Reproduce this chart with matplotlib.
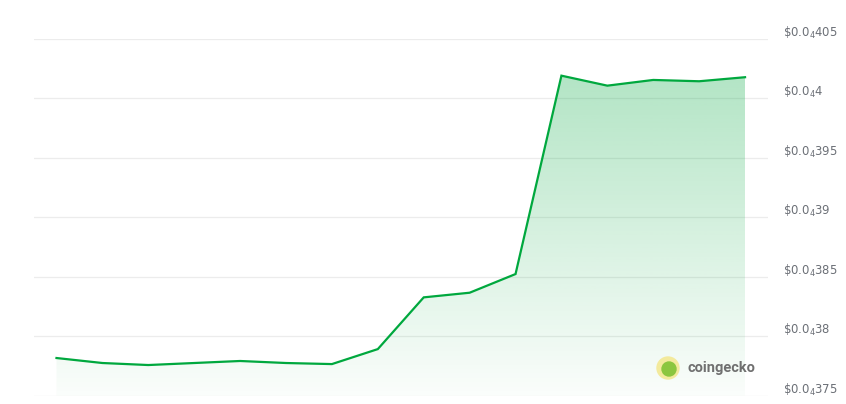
import numpy as np
import matplotlib.pyplot as plt
import matplotlib.transforms as mtransforms
from matplotlib.patches import Ellipse

# price in units of 1e-7 USD (405 -> $0.0000405)
prices = [378.16, 377.74, 377.57, 377.74, 377.91, 377.74, 377.65, 378.91,
          383.26, 383.65, 385.22, 401.9, 401.06, 401.54, 401.43, 401.77]
tick_values = [375, 380, 385, 390, 395, 400, 405]
tick_digits = ["375", "38", "385", "39", "395", "4", "405"]

LINE_GREEN = "#00a83e"
Y_MIN, Y_MAX = 375, 405

fig = plt.figure(figsize=(8.46, 4.04), dpi=100)
ax = fig.add_axes([34 / 846, 1 - 395.6 / 404, (768 - 34) / 846, (395.6 - 38.8) / 404])

x = np.arange(len(prices))
ax.plot(x, prices, color=LINE_GREEN, lw=1.6, zorder=3, solid_joinstyle="miter")

# gradient fill under the line
poly = ax.fill_between(x, prices, Y_MIN, color="none", lw=0)
top = max(prices)
grad = np.zeros((256, 1, 4))
grad[:, 0, 0] = 0 / 255
grad[:, 0, 1] = 168 / 255
grad[:, 0, 2] = 62 / 255
grad[:, 0, 3] = np.linspace(0.30, 0.02, 256)
img = ax.imshow(grad, aspect="auto", origin="upper",
                extent=(x[0], x[-1], Y_MIN, top), zorder=2)
path = poly.get_paths()[0]
img.set_clip_path(path, transform=ax.transData)

ax.set_xlim(-0.49, 15.5)
ax.set_ylim(Y_MIN, Y_MAX)
ax.set_yticks(tick_values)
ax.set_yticklabels([])
ax.tick_params(axis="y", length=0)
ax.set_xticks([])
ax.grid(axis="y", color="#ececec", lw=0.9)
ax.set_axisbelow(True)
for s in ax.spines.values():
    s.set_visible(False)

# price labels on the right, baseline just above each gridline
lab_tr = mtransforms.blended_transform_factory(ax.transAxes, ax.transData) + \
    mtransforms.ScaledTranslation(0, 1.5 / 72, fig.dpi_scale_trans)
for v, d in zip(tick_values, tick_digits):
    ax.text((783 - 34) / 734, v, r"\$0.0$_{4}$" + d, transform=lab_tr,
            fontsize=8.4, color="#6b6f76", ha="left", va="baseline",
            family="DejaVu Sans", clip_on=False)

# coingecko watermark
fig.add_artist(Ellipse((668 / 846, 1 - 368 / 404), 22 / 846, 22 / 404,
                       transform=fig.transFigure, color="#f3ea9c", zorder=5))
fig.add_artist(Ellipse((669 / 846, 1 - 369 / 404), 14 / 846, 14 / 404,
                       transform=fig.transFigure, color="#8cc63f", zorder=6))
fig.text(687 / 846, 1 - 368 / 404, "coingecko", fontsize=10.5, fontweight="bold",
         color="#707070", va="center", ha="left", family=["Roboto", "DejaVu Sans"])

fig.savefig("out.png", dpi=100)
